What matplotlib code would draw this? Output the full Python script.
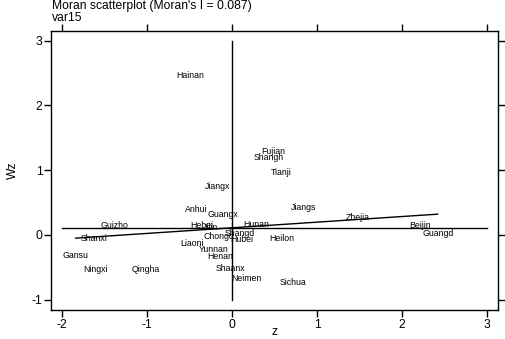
import numpy as np
import matplotlib
matplotlib.use('Agg')
import matplotlib.pyplot as plt

plt.rcParams['font.family'] = ['Liberation Sans', 'DejaVu Sans']
plt.rcParams['axes.unicode_minus'] = False

# province labels with standardized z and spatial lag Wz
names = ['Hainan', 'Fujian', 'Shangh', 'Tianji', 'Jiangx', 'Anhui', 'Guangx',
         'Guizho', 'Hebei', 'Jilin', 'Hunan', 'Chongq', 'Shangd', 'Hubei',
         'Heilon', 'Liaoni', 'Yunnan', 'Henan', 'Shaanx', 'Neimen', 'Sichua',
         'Gansu', 'Ningxi', 'Qingha', 'Shanxi', 'Jiangs', 'Zhejia', 'Beijin',
         'Guangd']
z = [-0.49, 0.48, 0.43, 0.58, -0.17, -0.42, -0.11,
     -1.38, -0.36, -0.25, 0.29, -0.16, 0.09, 0.11,
     0.58, -0.47, -0.21, -0.14, -0.02, 0.17, 0.72,
     -1.84, -1.61, -1.02, -1.62, 0.84, 1.48, 2.21,
     2.42]
wz = [2.46, 1.29, 1.20, 0.96, 0.75, 0.39, 0.32,
      0.14, 0.15, 0.12, 0.16, -0.02, 0.02, -0.07,
      -0.05, -0.14, -0.22, -0.34, -0.52, -0.67, -0.74,
      -0.32, -0.53, -0.53, -0.06, 0.43, 0.27, 0.14,
      0.02]

morans_i = 0.087
intercept = 0.11
mean_wz = 0.11

fig = plt.figure(figsize=(5.05, 3.39), dpi=100)
ax = fig.add_axes([51 / 505, 1 - 310 / 339, 447 / 505, 279 / 339])

for n, x, y in zip(names, z, wz):
    ax.text(x, y, n, fontsize=6.3, ha='center', va='center')

ax.plot([0, 0], [-1, 3], color='black', lw=1)
ax.plot([-2, 3], [mean_wz, mean_wz], color='black', lw=1)
zr = np.array([min(z), max(z)])
ax.plot(zr, intercept + morans_i * zr, color='black', lw=1)

ax.set_xlim(-2.13, 3.13)
ax.set_ylim(-1.16, 3.15)
ax.set_xticks([-2, -1, 0, 1, 2, 3])
ax.set_yticks([-1, 0, 1, 2, 3])
ax.tick_params(direction='out', length=4.7, width=1, labelsize=8.7,
               top=True, right=True, labeltop=False, labelright=False, pad=1.5)
for s in ax.spines.values():
    s.set_linewidth(1)

ax.set_xlabel('z', fontsize=8.7, va='center')
ax.xaxis.set_label_coords(0.5, -0.08)
ax.set_ylabel('Wz', fontsize=8.7, labelpad=9)

fig.text(52 / 505, 1 - 0.5 / 339, "Moran scatterplot (Moran's I = 0.087)\nvar15",
         fontsize=8.7, ha='left', va='top', linespacing=0.95)

fig.savefig('out.png', dpi=100)
